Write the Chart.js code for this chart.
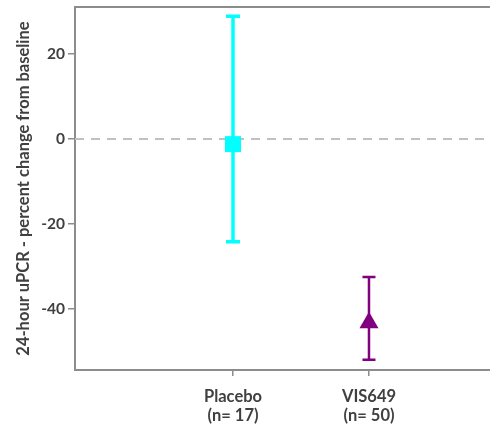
<!DOCTYPE html>
<html>
<head>
<meta charset="utf-8">
<style>
  html, body { margin: 0; padding: 0; background: #ffffff; }
  #wrap { width: 490px; height: 435px; position: relative; }
</style>
<script src="https://cdn.jsdelivr.net/npm/chart.js@4/dist/chart.umd.min.js"></script>
</head>
<body>
<div id="wrap"><canvas id="c" width="490" height="435"></canvas></div>
<script>
// Treatment groups and their summary statistics (percent change in 24-hour uPCR)
const groups = ['Placebo', 'VIS649'];
const groupN = ['(n= 17)', '(n= 50)'];
const groupPos = [1, 2];
const means = [-1.2, -43.3];
const lowerCI = [-24.2, -52.0];
const upperCI = [28.9, -32.5];
const yTicks = [-40, -20, 0, 20];

const colors = ['#00FFFF', '#800080'];
const markers = ['rect', 'triangle'];
const markerRadius = [11.3, 11];
const barWidths = [3.5, 2.5];
const capHalf = [7, 6.5];

const axisGray = '#8c8c8c';
const textColor = '#404040';
const fontFamily = 'Lato, "Open Sans", "DejaVu Sans", sans-serif';

const datasets = groups.map((g, i) => ({
  label: g,
  data: [{ x: groupPos[i], y: means[i], lo: lowerCI[i], hi: upperCI[i] }],
  backgroundColor: colors[i],
  borderColor: colors[i],
  borderWidth: 0,
  pointStyle: markers[i],
  pointRadius: markerRadius[i],
  pointHoverRadius: markerRadius[i],
  capHalf: capHalf[i],
  barWidth: barWidths[i]
}));

// Reference line at zero, error bars behind markers, and the top frame line
const decorations = {
  id: 'decorations',
  beforeDatasetsDraw(chart) {
    const { ctx, chartArea, scales } = chart;
    const x = scales.x, y = scales.y;
    ctx.save();
    // dashed zero line
    const y0 = y.getPixelForValue(0);
    ctx.strokeStyle = '#c0c0c0';
    ctx.lineWidth = 2;
    ctx.setLineDash([9, 7]);
    ctx.beginPath();
    ctx.moveTo(chartArea.left, y0);
    ctx.lineTo(chartArea.right, y0);
    ctx.stroke();
    ctx.setLineDash([]);
    // top frame line
    ctx.strokeStyle = axisGray;
    ctx.lineWidth = 2;
    ctx.beginPath();
    ctx.moveTo(chartArea.left, chartArea.top);
    ctx.lineTo(chartArea.right, chartArea.top);
    ctx.stroke();
    // error bars
    chart.data.datasets.forEach(ds => {
      ds.data.forEach(p => {
        const px = x.getPixelForValue(p.x);
        const pLo = y.getPixelForValue(p.lo);
        const pHi = y.getPixelForValue(p.hi);
        ctx.strokeStyle = ds.borderColor;
        ctx.lineWidth = ds.barWidth;
        ctx.beginPath();
        ctx.moveTo(px, pLo);
        ctx.lineTo(px, pHi);
        ctx.moveTo(px - ds.capHalf, pLo);
        ctx.lineTo(px + ds.capHalf, pLo);
        ctx.moveTo(px - ds.capHalf, pHi);
        ctx.lineTo(px + ds.capHalf, pHi);
        ctx.stroke();
      });
    });
    ctx.restore();
  }
};

new Chart(document.getElementById('c'), {
  type: 'scatter',
  data: { datasets },
  options: {
    responsive: false,
    animation: false,
    events: [],
    layout: { autoPadding: false, padding: { top: 7, right: 0, left: 0, bottom: 0 } },
    plugins: {
      legend: { display: false },
      tooltip: { enabled: false }
    },
    scales: {
      x: {
        type: 'linear',
        min: -0.162,
        max: 2.89,
        afterBuildTicks(scale) { scale.ticks = groupPos.map(v => ({ value: v })); },
        afterFit(scale) {
          scale.height = 65;
          scale.paddingLeft = 0;
          scale.paddingRight = 0;
        },
        ticks: {
          autoSkip: false,
          maxRotation: 0,
          padding: 12,
          color: textColor,
          font: { family: fontFamily, size: 16.5, weight: 'bold', lineHeight: 1.1 },
          callback(v) {
            const i = groupPos.indexOf(v);
            return i >= 0 ? [groups[i], groupN[i]] : '';
          }
        },
        grid: {
          display: true,
          drawOnChartArea: false,
          drawTicks: true,
          tickLength: 6,
          color: axisGray,
          lineWidth: 1.5
        },
        border: { display: true, color: axisGray, width: 2 }
      },
      y: {
        type: 'linear',
        min: -54.4,
        max: 31.1,
        afterBuildTicks(scale) { scale.ticks = yTicks.map(v => ({ value: v })); },
        afterFit(scale) {
          scale.width = 75;
          scale.paddingTop = 0;
          scale.paddingBottom = 0;
        },
        ticks: {
          padding: 3,
          color: textColor,
          font: { family: fontFamily, size: 15.5, weight: 'bold' }
        },
        grid: {
          display: true,
          drawOnChartArea: false,
          drawTicks: true,
          tickLength: 7,
          color: axisGray,
          lineWidth: 1.5
        },
        border: { display: true, color: axisGray, width: 2 },
        title: {
          display: true,
          text: '24-hour uPCR - percent change from baseline',
          color: textColor,
          font: { family: fontFamily, size: 16.5, weight: 'bold' },
          padding: { top: 14, bottom: 0 }
        }
      }
    }
  },
  plugins: [decorations]
});
</script>
</body>
</html>
